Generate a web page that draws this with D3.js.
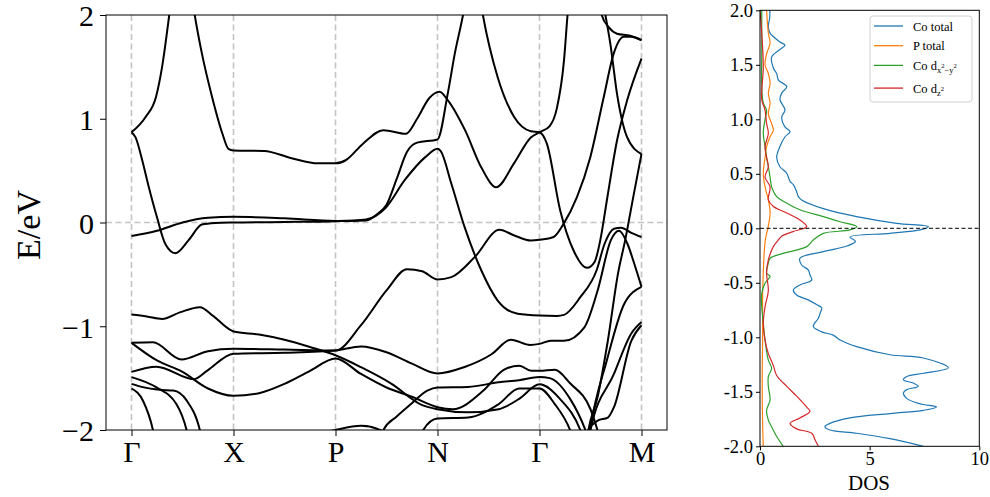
<!DOCTYPE html>
<html>
<head>
<meta charset="utf-8">
<script src="https://cdn.jsdelivr.net/npm/d3@7/dist/d3.min.js"></script>
<style>
body { margin: 0; background: #fff; }
text { font-family: "Liberation Serif", "Times New Roman", serif; }
</style>
</head>
<body>
<div id="container"></div>
<script>
// k path: Γ=0, X=1, P=2, N=3, Γ=4, M=5
let kTicks = [0, 1, 2, 3, 4, 5];
let kLabels = ["Γ", "X", "P", "N", "Γ", "M"];
let eTicks = [-2, -1, 0, 1, 2];

// bands as [k, E] points
let bandA = [[0,0.87],[0.14,1.02],[0.24,1.21],[0.30,1.5],[0.37,2.0],[0.49,3.0],[0.62,2.0],[0.69,1.63],[0.79,1.21],[0.89,0.86],[0.95,0.71],[1,0.695],[1.3,0.69],[1.57,0.62],[1.83,0.57],[2,0.57],[2.1,0.6],[2.27,0.76],[2.47,0.89],[2.69,0.855],[2.8,1.0],[2.92,1.2],[3.02,1.26],[3.1,1.18],[3.27,0.89],[3.43,0.53],[3.575,0.34],[3.75,0.57],[3.915,0.82],[4,0.87],[4.1,0.93],[4.17,1.1],[4.24,1.56],[4.275,2.0],[4.45,3.0],[4.646,2.0],[4.695,1.72],[4.76,1.24],[4.86,0.82],[5,0.66]];
let bandB = [[0,0.87],[0.04,0.82],[0.105,0.60],[0.17,0.34],[0.25,0.05],[0.333,-0.21],[0.43,-0.296],[0.56,-0.17],[0.69,-0.02],[0.82,-0.005],[1,0.0],[1.5,0.005],[2,0.013],[2.3,0.03],[2.49,0.14],[2.68,0.41],[2.88,0.63],[3,0.71],[3.03,0.69],[3.136,0.373],[3.266,-0.045],[3.43,-0.463],[3.59,-0.752],[3.786,-0.88],[4,-0.897],[4.17,-0.9],[4.24,-0.89],[4.4,-0.72],[4.56,-0.46],[4.64,-0.2],[4.73,-0.06],[4.8,-0.05],[4.9,-0.1],[5,-0.14]];
let bandC = [[0,-0.13],[0.25,-0.08],[0.5,0.0],[0.75,0.045],[1,0.055],[1.5,0.04],[2,0.015],[2.3,0.02],[2.42,0.09],[2.5,0.17],[2.6,0.42],[2.7,0.68],[2.8,0.77],[3,0.80],[3.1,1.24],[3.17,1.63],[3.25,2.0],[3.35,2.6],[3.445,2.0],[3.59,1.40],[3.75,1.02],[3.915,0.88],[4,0.87],[4.072,0.76],[4.203,0.116],[4.334,-0.27],[4.466,-0.437],[4.54,-0.38],[4.6,-0.15],[4.66,0.21],[4.76,0.79],[4.86,1.18],[5,1.58]];
let bandR = [[0,-1.16],[0.21,-1.155],[0.49,-1.32],[0.75,-1.24],[1,-1.217],[1.5,-1.225],[2,-1.234],[2.25,-0.99],[2.5,-0.655],[2.7,-0.45],[2.85,-0.47],[3,-0.55],[3.136,-0.527],[3.364,-0.334],[3.607,-0.07],[3.753,-0.125],[3.916,-0.174],[4,-0.167],[4.138,-0.14],[4.236,-0.013],[4.367,0.244],[4.498,0.63],[4.63,1.21],[4.728,1.63],[4.826,1.79],[4.9,1.79],[5,1.76]];
let bandTop = [[4.5,3.0],[4.61,2.0],[4.68,1.88],[4.76,1.82],[4.89,1.80],[5,1.755]];
let bandD = [[0,-0.887],[0.15,-0.906],[0.3,-0.93],[0.48,-0.864],[0.67,-0.816],[0.8,-0.9],[0.96,-1.03],[1,-1.05],[1.25,-1.08],[1.5,-1.13],[1.75,-1.2],[2,-1.28],[2.25,-1.395],[2.55,-1.555],[2.85,-1.76],[3,-1.80],[3.3,-1.83],[3.6,-1.80],[3.8,-1.7],[4,-1.56],[4.2,-1.7],[4.4,-2.0],[4.5,-2.3]];
let bandF = [[0,-1.44],[0.245,-1.39],[0.61,-1.51],[0.74,-1.43],[1,-1.265],[1.5,-1.255],[2,-1.234],[2.25,-1.195],[2.5,-1.25],[2.75,-1.36],[3,-1.455],[3.26,-1.395],[3.53,-1.27],[3.72,-1.13],[3.91,-1.18],[4,-1.17],[4.11,-1.14],[4.24,-1.14],[4.44,-1.01],[4.57,-0.655],[4.70,-0.17],[4.78,-0.08],[4.86,-0.2],[4.93,-0.4],[5,-0.62]];
let bandE2 = [[0,-1.16],[0.25,-1.33],[0.5,-1.44],[0.75,-1.6],[1,-1.67],[1.25,-1.645],[1.5,-1.555],[1.75,-1.43],[2,-1.31],[2.25,-1.46],[2.5,-1.59],[2.75,-1.68],[3,-1.78],[3.15,-1.8],[3.45,-1.62],[3.65,-1.42],[3.8,-1.38],[3.92,-1.43],[4,-1.43],[4.15,-1.42],[4.3,-1.55],[4.5,-1.8],[4.6,-2.1],[4.7,-2.4]];
let bandG1 = [[0,-1.49],[0.245,-1.59],[0.44,-1.75],[0.54,-2.0],[0.62,-2.4]];
let bandG2 = [[0,-1.555],[0.11,-1.587],[0.28,-1.613],[0.41,-1.62],[0.54,-1.715],[0.67,-2.0],[0.75,-2.4]];
let bandG3 = [[0,-1.6],[0.114,-1.72],[0.21,-2.0],[0.28,-2.4]];
let bandH = [[1.5,-2.3],[1.8,-2.05],[2,-2.0],[2.25,-1.96],[2.5,-2.03],[2.7,-2.3]];
let bandJ = [[2.4,-2.3],[2.47,-2.0],[2.6,-1.87],[2.74,-1.75],[2.9,-1.62],[3,-1.59],[3.3,-1.585],[3.6,-1.54],[3.8,-1.52],[4,-1.49],[4.1,-1.5],[4.3,-1.7],[4.45,-2.0],[4.55,-2.3]];
let bandK = [[2.78,-2.3],[2.86,-2.0],[3,-1.89],[3.3,-1.88],[3.6,-1.75],[3.8,-1.6],[4,-1.6],[4.15,-1.75],[4.3,-2.0],[4.4,-2.3]];
let bandS = [[4.4,-2.6],[4.48,-2.0],[4.57,-1.68],[4.67,-1.14],[4.77,-0.49],[4.84,-0.17],[4.92,0.25],[5,0.66]];
let bandM1 = [[4.4,-2.3],[4.48,-2.0],[4.57,-1.91],[4.67,-1.88],[4.73,-1.78],[4.9,-1.14],[5,-0.99]];
let bandM2 = [[4.45,-2.3],[4.5,-1.97],[4.66,-1.33],[4.83,-0.785],[5,-0.62]];
let bandM3 = [[4.42,-2.5],[4.5,-2.0],[4.73,-1.46],[4.9,-1.07],[5,-0.96]];

let bands = [bandA, bandB, bandC, bandR, bandTop, bandD, bandF, bandE2, bandG1, bandG2, bandG3, bandH, bandJ, bandK, bandS, bandM1, bandM2, bandM3];

// DOS as [E, dos] points
let coTotal = [[2.0,0.45],[1.93,0.44],[1.85,0.38],[1.79,0.46],[1.71,0.91],[1.68,1.14],[1.64,0.91],[1.57,0.53],[1.47,0.61],[1.42,0.76],[1.36,0.84],[1.30,1.22],[1.24,0.99],[1.18,0.91],[1.085,1.14],[1.02,0.99],[0.93,1.14],[0.886,1.37],[0.84,1.14],[0.75,0.91],[0.65,0.76],[0.565,0.91],[0.505,1.22],[0.43,1.37],[0.40,1.52],[0.336,1.67],[0.29,1.75],[0.26,1.9],[0.18,2.89],[0.107,4.41],[0.046,6.23],[0.015,7.68],[-0.015,7.3],[-0.046,5.93],[-0.08,4.1],[-0.12,4.35],[-0.16,4.0],[-0.214,2.89],[-0.275,1.82],[-0.337,1.9],[-0.382,2.2],[-0.428,2.28],[-0.474,2.36],[-0.52,1.82],[-0.566,1.52],[-0.612,1.67],[-0.657,2.2],[-0.70,2.58],[-0.73,2.81],[-0.78,2.74],[-0.826,2.66],[-0.90,2.43],[-0.95,2.81],[-0.98,3.34],[-1.025,3.65],[-1.086,4.41],[-1.16,5.93],[-1.19,7.45],[-1.28,8.59],[-1.33,7.45],[-1.36,6.69],[-1.39,6.54],[-1.42,6.99],[-1.45,7.22],[-1.48,6.69],[-1.51,6.54],[-1.56,6.69],[-1.61,7.29],[-1.64,8.05],[-1.67,7.45],[-1.70,5.93],[-1.74,4.1],[-1.79,3.19],[-1.82,2.96],[-1.85,3.19],[-1.88,4.41],[-1.93,5.93],[-2.0,7.45]];
let pTotal = [[2.0,0.3],[1.79,0.38],[1.70,0.46],[1.6,0.3],[1.5,0.23],[1.42,0.38],[1.33,0.46],[1.24,0.38],[1.15,0.46],[1.05,0.38],[0.96,0.53],[0.90,0.61],[0.84,0.46],[0.75,0.30],[0.65,0.23],[0.5,0.15],[0.38,0.23],[0.26,0.38],[0.14,0.46],[0.02,0.38],[-0.1,0.25],[-0.2,0.2],[-0.4,0.15],[-0.6,0.12],[-1.0,0.12],[-1.4,0.1],[-1.8,0.12],[-2.0,0.15]];
let coDx2y2 = [[2.0,0.08],[1.6,0.08],[1.3,0.08],[1.15,0.15],[1.085,0.3],[1.0,0.23],[0.88,0.15],[0.75,0.23],[0.65,0.3],[0.565,0.38],[0.47,0.46],[0.38,0.53],[0.29,0.76],[0.23,1.22],[0.17,1.82],[0.107,2.89],[0.06,3.65],[0.015,4.41],[-0.015,4.1],[-0.046,2.89],[-0.107,2.43],[-0.168,2.13],[-0.23,1.06],[-0.275,0.46],[-0.32,0.38],[-0.41,0.30],[-0.44,0.46],[-0.505,0.23],[-0.597,0.08],[-0.72,0.08],[-0.87,0.15],[-1.025,0.23],[-1.21,0.38],[-1.285,0.53],[-1.36,0.38],[-1.45,0.38],[-1.575,0.46],[-1.67,0.30],[-1.76,0.38],[-1.82,0.53],[-1.91,0.76],[-2.0,1.06]];
let coDz2 = [[2.0,0.0],[1.79,0.08],[1.48,0.15],[1.18,0.08],[1.085,0.23],[0.963,0.30],[0.87,0.38],[0.75,0.23],[0.65,0.30],[0.565,0.38],[0.47,0.23],[0.38,0.46],[0.26,0.38],[0.2,0.61],[0.14,1.22],[0.077,1.82],[0.015,2.13],[-0.03,1.5],[-0.07,1.0],[-0.107,0.84],[-0.168,0.61],[-0.29,0.38],[-0.41,0.30],[-0.57,0.38],[-0.72,0.23],[-0.87,0.15],[-1.025,0.23],[-1.15,0.38],[-1.26,0.61],[-1.35,0.76],[-1.45,1.22],[-1.54,1.67],[-1.64,2.13],[-1.68,2.28],[-1.74,1.82],[-1.79,1.37],[-1.84,1.67],[-1.88,2.36],[-1.94,2.51],[-2.0,2.66]];

let dosSeries = [coTotal, pTotal, coDx2y2, coDz2];
let dosColors = ["#1f77b4", "#ff7f0e", "#2ca02c", "#d62728"];
let dosTicksY = [-2, -1.5, -1, -0.5, 0, 0.5, 1, 1.5, 2];
let dosTicksX = [0, 5, 10];
let legendNames = ["Co total", "P total", "Co d", "Co d"];

let w = 990;
let h = 497;

let viz = d3.select("#container")
  .append("svg")
    .attr("width", w)
    .attr("height", h)
    .style("background-color", "white")
;

// ---- band panel ----
let bx = d3.scaleLinear().domain([-0.25, 5.25]).range([106, 667]);
let by = d3.scaleLinear().domain([-2, 2]).range([430, 15]);

viz.append("clipPath").attr("id", "bandclip")
  .append("rect")
    .attr("x", 106).attr("y", 15)
    .attr("width", 561).attr("height", 415);

let grid = viz.append("g").attr("clip-path", "url(#bandclip)");
grid.selectAll(".vgrid").data(kTicks).enter()
  .append("line")
    .attr("x1", d => bx(d)).attr("x2", d => bx(d))
    .attr("y1", 15).attr("y2", 430)
    .attr("stroke", "#c4c4c4")
    .attr("stroke-width", 1.6)
    .attr("stroke-dasharray", "6,3.5")
;
grid.append("line")
    .attr("x1", 106).attr("x2", 667)
    .attr("y1", by(0)).attr("y2", by(0))
    .attr("stroke", "#c4c4c4")
    .attr("stroke-width", 1.6)
    .attr("stroke-dasharray", "6,3.5")
;

let bandLine = d3.line()
  .x(d => bx(d[0]))
  .y(d => by(d[1]))
  .curve(d3.curveMonotoneX);

grid.selectAll(".band").data(bands).enter()
  .append("path")
    .attr("d", bandLine)
    .attr("fill", "none")
    .attr("stroke", "black")
    .attr("stroke-width", 2)
;

let bandYAxis = viz.append("g")
  .attr("transform", "translate(106,0)")
  .call(d3.axisLeft(by).tickValues(eTicks).tickSize(6).tickPadding(6)
    .tickFormat(d => d < 0 ? "\u2212" + (-d) : d));
let bandXAxis = viz.append("g")
  .attr("transform", "translate(0,430)")
  .call(d3.axisBottom(bx).tickValues(kTicks).tickSize(6).tickPadding(5)
    .tickFormat((d, i) => kLabels[i]));
[bandYAxis, bandXAxis].forEach(a => {
  a.select(".domain").remove();
  a.selectAll("line").attr("stroke", "black").attr("stroke-width", 1);
  a.selectAll("text").attr("font-size", 30).attr("fill", "black")
    .style("font-family", "'Liberation Serif', serif");
});
bandYAxis.selectAll("text").attr("dy", "0.36em");

viz.append("rect")
  .attr("x", 106).attr("y", 15)
  .attr("width", 561).attr("height", 415)
  .attr("fill", "none").attr("stroke", "black").attr("stroke-width", 1);

viz.append("text")
  .text("E/eV")
  .attr("transform", "translate(40,225) rotate(-90)")
  .attr("text-anchor", "middle")
  .attr("font-size", 34)
  .attr("fill", "black");

// ---- DOS panel ----
let dx = d3.scaleLinear().domain([0, 10]).range([760, 979.3]);
let dy = d3.scaleLinear().domain([-2, 2]).range([446.3, 10.3]);

viz.append("clipPath").attr("id", "dosclip")
  .append("rect")
    .attr("x", 760).attr("y", 10.3)
    .attr("width", 219.3).attr("height", 436);

let dosG = viz.append("g").attr("clip-path", "url(#dosclip)");

let dosLine = d3.line()
  .x(d => dx(d[1]))
  .y(d => dy(d[0]))
  .curve(d3.curveCatmullRom.alpha(0.5));

dosG.selectAll(".dos").data(dosSeries).enter()
  .append("path")
    .attr("d", dosLine)
    .attr("fill", "none")
    .attr("stroke", (d, i) => dosColors[i])
    .attr("stroke-width", 1.2)
;

dosG.append("line")
  .attr("x1", 760).attr("x2", 979.3)
  .attr("y1", dy(0)).attr("y2", dy(0))
  .attr("stroke", "black").attr("stroke-width", 1)
  .attr("stroke-dasharray", "4,2.5");

let dosYAxis = viz.append("g")
  .attr("transform", "translate(760,0)")
  .call(d3.axisLeft(dy).tickValues(dosTicksY).tickSize(4).tickPadding(3)
    .tickFormat(d => d.toFixed(1)));
let dosXAxis = viz.append("g")
  .attr("transform", "translate(0,446.3)")
  .call(d3.axisBottom(dx).tickValues(dosTicksX).tickSize(4).tickPadding(2));
[dosYAxis, dosXAxis].forEach(a => {
  a.select(".domain").remove();
  a.selectAll("line").attr("stroke", "black").attr("stroke-width", 1);
  a.selectAll("text").attr("font-size", 18.5).attr("fill", "black")
    .style("font-family", "'Liberation Serif', serif");
});

viz.append("rect")
  .attr("x", 760).attr("y", 10.3)
  .attr("width", 219.3).attr("height", 436)
  .attr("fill", "none").attr("stroke", "black").attr("stroke-width", 1);

viz.append("text")
  .text("DOS")
  .attr("x", 869).attr("y", 490)
  .attr("text-anchor", "middle")
  .attr("font-size", 21)
  .attr("fill", "black");

// legend
let legend = viz.append("g");
legend.append("rect")
  .attr("x", 870).attr("y", 16)
  .attr("width", 102).attr("height", 86)
  .attr("rx", 3)
  .attr("fill", "white").attr("stroke", "#d0d0d0").attr("stroke-width", 1);

let legendItems = legend.selectAll(".item").data(dosColors).enter()
  .append("g")
    .attr("transform", (d, i) => "translate(874," + (26 + i * 19.7 + (i == 3 ? 3 : 0)) + ")");
legendItems.append("line")
  .attr("x1", 0).attr("x2", 29)
  .attr("stroke", d => d).attr("stroke-width", 1.3);
let legendText = legendItems.append("text")
  .attr("x", 39).attr("y", 4.5)
  .attr("font-size", 12.5)
  .attr("fill", "black")
  .text((d, i) => legendNames[i]);
legendText.filter((d, i) => i == 2).each(function() {
  let t = d3.select(this);
  t.append("tspan").attr("font-size", 8.5).attr("dy", 3).text("x");
  t.append("tspan").attr("font-size", 6.5).attr("dy", -5).text("2");
  t.append("tspan").attr("font-size", 8.5).attr("dy", 5).text("\u2212y");
  t.append("tspan").attr("font-size", 6.5).attr("dy", -5).text("2");
});
legendText.filter((d, i) => i == 3).each(function() {
  let t = d3.select(this);
  t.append("tspan").attr("font-size", 8.5).attr("dy", 3).text("z");
  t.append("tspan").attr("font-size", 6.5).attr("dy", -5).text("2");
});
</script>
</body>
</html>
